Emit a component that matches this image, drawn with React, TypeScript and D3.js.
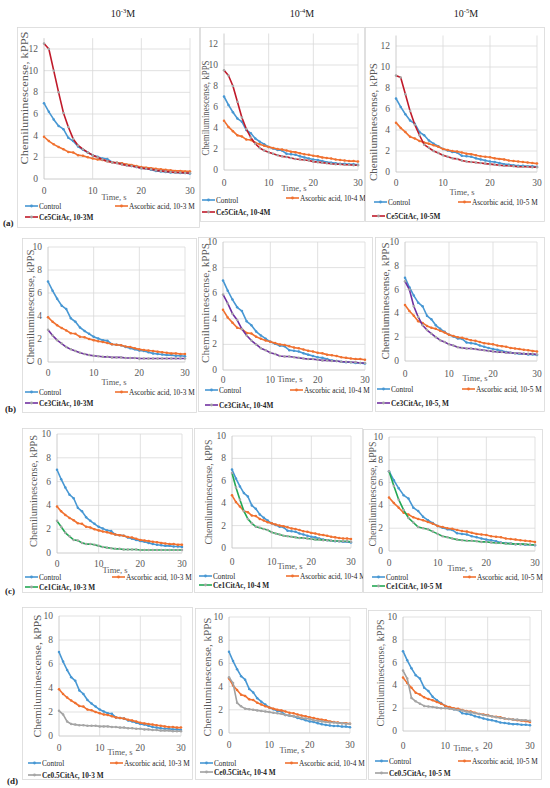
import React from 'react';
import * as d3 from 'd3';

// ---------- DATA ----------
const time = [0, 1, 2, 3, 4, 5, 6, 7, 8, 9, 10, 11, 12, 13, 14, 15, 16, 17, 18, 19, 20, 21, 22, 23, 24, 25, 26, 27, 28, 29, 30];

const control = [7.0, 6.2, 5.5, 4.9, 4.6, 3.8, 3.5, 3.0, 2.7, 2.45, 2.2, 2.05, 1.9, 1.85, 1.55, 1.5, 1.45, 1.3, 1.2, 1.1, 1.0, 0.95, 0.85, 0.75, 0.7, 0.65, 0.6, 0.6, 0.55, 0.55, 0.5];

const ascorbic3 = [3.9, 3.5, 3.2, 2.95, 2.75, 2.5, 2.45, 2.2, 2.15, 2.0, 1.9, 1.8, 1.75, 1.65, 1.55, 1.5, 1.45, 1.35, 1.3, 1.2, 1.1, 1.05, 1.0, 0.95, 0.9, 0.85, 0.8, 0.75, 0.75, 0.7, 0.7];
const ascorbic4 = [4.7, 4.1, 3.7, 3.3, 3.2, 2.9, 2.85, 2.6, 2.45, 2.3, 2.2, 2.1, 2.0, 1.95, 1.85, 1.75, 1.7, 1.6, 1.5, 1.45, 1.35, 1.3, 1.2, 1.15, 1.1, 1.0, 0.95, 0.9, 0.85, 0.85, 0.8];
const ascorbic5 = [4.7, 4.2, 3.8, 3.35, 3.2, 2.95, 2.8, 2.7, 2.55, 2.4, 2.2, 2.1, 2.0, 1.95, 1.85, 1.75, 1.7, 1.6, 1.5, 1.45, 1.4, 1.3, 1.25, 1.2, 1.1, 1.05, 1.0, 0.95, 0.9, 0.85, 0.8];

const ce5_3 = [12.5, 12.0, 10.0, 8.0, 6.1, 4.8, 3.7, 3.1, 2.75, 2.45, 2.2, 2.0, 1.8, 1.65, 1.55, 1.45, 1.35, 1.25, 1.2, 1.1, 1.0, 0.95, 0.9, 0.8, 0.75, 0.7, 0.65, 0.6, 0.6, 0.55, 0.55];
const ce5_4 = [9.5, 9.0, 8.0, 6.5, 5.0, 3.9, 3.1, 2.5, 2.1, 1.85, 1.7, 1.55, 1.4, 1.3, 1.25, 1.15, 1.05, 1.0, 0.95, 0.9, 0.8, 0.75, 0.7, 0.65, 0.6, 0.55, 0.55, 0.5, 0.5, 0.45, 0.45];
const ce5_5 = [9.2, 9.0, 7.4, 5.8, 4.5, 3.5, 2.6, 2.3, 2.0, 1.8, 1.6, 1.45, 1.3, 1.25, 1.1, 1.0, 0.95, 0.9, 0.85, 0.8, 0.75, 0.7, 0.65, 0.6, 0.6, 0.55, 0.5, 0.5, 0.5, 0.45, 0.45];

const ce3_3 = [2.8, 2.3, 1.9, 1.6, 1.3, 1.1, 0.95, 0.8, 0.7, 0.6, 0.55, 0.5, 0.45, 0.45, 0.4, 0.4, 0.4, 0.35, 0.35, 0.35, 0.3, 0.3, 0.3, 0.3, 0.3, 0.3, 0.3, 0.3, 0.3, 0.3, 0.3];
const ce3_4 = [5.9, 5.2, 4.4, 3.9, 3.2, 2.7, 2.3, 2.0, 1.7, 1.55, 1.35, 1.25, 1.1, 1.05, 1.05, 1.0, 0.95, 0.9, 0.85, 0.85, 0.8, 0.75, 0.75, 0.7, 0.7, 0.65, 0.65, 0.6, 0.6, 0.55, 0.55];
const ce3_5 = [6.7, 6.0, 4.6, 3.7, 3.0, 2.6, 2.3, 2.0, 1.75, 1.6, 1.4, 1.3, 1.15, 1.1, 1.05, 1.05, 1.0, 0.95, 0.9, 0.85, 0.8, 0.75, 0.75, 0.7, 0.7, 0.65, 0.65, 0.6, 0.6, 0.6, 0.55];

const ce1_3 = [2.7, 2.2, 1.7, 1.4, 1.1, 1.05, 0.85, 0.75, 0.75, 0.7, 0.6, 0.5, 0.45, 0.4, 0.35, 0.35, 0.3, 0.3, 0.3, 0.3, 0.25, 0.25, 0.25, 0.25, 0.25, 0.25, 0.25, 0.25, 0.25, 0.25, 0.25];
const ce1_4 = [6.7, 5.4, 4.3, 3.3, 2.6, 2.2, 1.9, 1.8, 1.7, 1.6, 1.4, 1.3, 1.2, 1.1, 1.05, 1.0, 0.95, 0.9, 0.9, 0.85, 0.8, 0.75, 0.75, 0.7, 0.7, 0.65, 0.65, 0.6, 0.6, 0.6, 0.55];
const ce1_5 = [7.0, 5.7, 4.5, 3.6, 2.9, 2.5, 2.1, 2.0, 1.9, 1.7, 1.5, 1.3, 1.2, 1.1, 1.0, 0.95, 0.9, 0.9, 0.85, 0.8, 0.8, 0.75, 0.7, 0.7, 0.65, 0.65, 0.6, 0.6, 0.6, 0.55, 0.55];

const ce05_3 = [2.1, 1.8, 1.2, 1.0, 0.95, 0.9, 0.9, 0.85, 0.85, 0.85, 0.8, 0.8, 0.8, 0.75, 0.75, 0.7, 0.7, 0.65, 0.65, 0.6, 0.6, 0.55, 0.55, 0.5, 0.5, 0.45, 0.45, 0.45, 0.4, 0.4, 0.4];
const ce05_4 = [4.8, 4.3, 2.6, 2.3, 2.1, 2.05, 2.0, 1.95, 1.9, 1.85, 1.8, 1.75, 1.7, 1.65, 1.55, 1.5, 1.45, 1.4, 1.3, 1.25, 1.2, 1.1, 1.05, 1.0, 0.95, 0.9, 0.9, 0.85, 0.85, 0.8, 0.8];
const ce05_5 = [5.3, 4.6, 2.9, 2.6, 2.4, 2.2, 2.15, 2.1, 2.05, 2.0, 2.0, 1.95, 1.9, 1.85, 1.8, 1.7, 1.65, 1.55, 1.5, 1.4, 1.35, 1.3, 1.2, 1.15, 1.1, 1.05, 1.0, 1.0, 0.95, 0.95, 0.9];

const xTicks = [0, 10, 20, 30];
const yTicksRowA = [0, 2, 4, 6, 8, 10, 12];
const yTicksOther = [0, 2, 4, 6, 8, 10];
const columnExponents = ['-3', '-4', '-5'];
const rowLabels = ['(a)', '(b)', '(c)', '(d)'];

const controlLabel = 'Control';
const ascorbicLabels = ['Ascorbic acid, 10-3 M', 'Ascorbic acid, 10-4 M', 'Ascorbic acid, 10-5 M'];
const ceLabels = [
  ['Ce5CitAc, 10-3M', 'Ce5CitAc, 10-4M', 'Ce5CitAc, 10-5M'],
  ['Ce3CitAc, 10-3M', 'Ce3CitAc, 10-4M', 'Ce3CitAc, 10-5, M'],
  ['Ce1CitAc, 10-3 M', 'Ce1CitAc, 10-4 M', 'Ce1CitAc, 10-5 M'],
  ['Ce0.5CitAc, 10-3 M', 'Ce0.5CitAc, 10-4 M', 'Ce0.5CitAc, 10-5 M'],
];
const ascorbicSeries = [ascorbic3, ascorbic4, ascorbic5];
const ceSeries = [
  [ce5_3, ce5_4, ce5_5],
  [ce3_3, ce3_4, ce3_5],
  [ce1_3, ce1_4, ce1_5],
  [ce05_3, ce05_4, ce05_5],
];

// ---------- STYLE / LAYOUT ----------
const COL_CONTROL = '#4797d3';
const COL_ASC = '#f07130';
const ceColors = ['#c01a2a', '#7030a0', '#22a854', '#a0a0a0'];
const GRID = '#d9d9d9';
const AXIS = '#bfbfbf';
const TXT = '#595959';
const FONT = '"Liberation Serif", "DejaVu Serif", serif';

type L = {
  box: number[]; x0: number; x1: number; y0: number; yT: number; tMax: number; dMax: number;
  xlY: number; timeX: number; timeY: number;
  titleX: number; titleCY: number; titleLen: number;
  ctrlX: number; ctrlY: number; ascX: number; ascY: number; ceX: number; ceY: number;
};

const layouts: L[][] = [
  [
    { box: [17, 27, 200, 228], x0: 44, x1: 190, y0: 179, yT: 49, tMax: 12, dMax: 13, xlY: 191, timeX: 114, timeY: 197, titleX: 24, titleCY: 98, titleLen: 133, ctrlX: 25, ctrlY: 206, ascX: 115, ascY: 206, ceX: 25, ceY: 217 },
    { box: [200, 27, 365, 222], x0: 224, x1: 358, y0: 170, yT: 44, tMax: 12, dMax: 13, xlY: 183, timeX: 294, timeY: 188, titleX: 205, titleCY: 108, titleLen: 95, ctrlX: 202, ctrlY: 200, ascX: 286, ascY: 198, ceX: 202, ceY: 212 },
    { box: [365, 27, 545, 222], x0: 396, x1: 537, y0: 172, yT: 46, tMax: 12, dMax: 13, xlY: 183, timeX: 462, timeY: 192, titleX: 373, titleCY: 122, titleLen: 118, ctrlX: 374, ctrlY: 202, ascX: 458, ascY: 202, ceX: 372, ceY: 216 },
  ],
  [
    { box: [22, 238, 197, 413], x0: 48, x1: 185, y0: 362, yT: 247, tMax: 10, dMax: 10, xlY: 373, timeX: 114, timeY: 382, titleX: 30, titleCY: 307, titleLen: 115, ctrlX: 25, ctrlY: 392, ascX: 115, ascY: 392, ceX: 25, ceY: 403 },
    { box: [198, 237, 373, 412], x0: 223, x1: 365, y0: 370, yT: 242, tMax: 10, dMax: 10, xlY: 380, timeX: 290, timeY: 379, titleX: 205, titleCY: 303, titleLen: 120, ctrlX: 205, ctrlY: 390, ascX: 290, ascY: 390, ceX: 205, ceY: 405 },
    { box: [375, 237, 545, 412], x0: 405, x1: 537, y0: 361, yT: 242, tMax: 10, dMax: 10, xlY: 374, timeX: 475, timeY: 378, titleX: 385, titleCY: 301, titleLen: 117, ctrlX: 377, ctrlY: 389, ascX: 462, ascY: 389, ceX: 377, ceY: 403 },
  ],
  [
    { box: [22, 428, 193, 593], x0: 57, x1: 182, y0: 553, yT: 434, tMax: 10, dMax: 10, xlY: 564, timeX: 115, timeY: 570, titleX: 33, titleCY: 491, titleLen: 112, ctrlX: 25, ctrlY: 577, ascX: 112, ascY: 577, ceX: 25, ceY: 587 },
    { box: [194, 428, 363, 593], x0: 232, x1: 351, y0: 548, yT: 436, tMax: 10, dMax: 10, xlY: 562, timeX: 290, timeY: 566, titleX: 208, titleCY: 492, titleLen: 105, ctrlX: 199, ctrlY: 576, ascX: 286, ascY: 576, ceX: 199, ceY: 585 },
    { box: [363, 429, 543, 593], x0: 389, x1: 535, y0: 551, yT: 437, tMax: 10, dMax: 10, xlY: 563, timeX: 460, timeY: 568, titleX: 372, titleCY: 494, titleLen: 105, ctrlX: 372, ctrlY: 577, ascX: 463, ascY: 577, ceX: 372, ceY: 586 },
  ],
  [
    { box: [22, 607, 193, 780], x0: 59, x1: 181, y0: 736, yT: 616, tMax: 10, dMax: 10, xlY: 748, timeX: 120, timeY: 752, titleX: 37, titleCY: 676, titleLen: 123, ctrlX: 28, ctrlY: 763, ascX: 110, ascY: 763, ceX: 28, ceY: 775 },
    { box: [195, 608, 367, 780], x0: 229, x1: 350, y0: 733, yT: 617, tMax: 10, dMax: 10, xlY: 745, timeX: 292, timeY: 750, titleX: 207, titleCY: 677, titleLen: 119, ctrlX: 200, ctrlY: 763, ascX: 285, ascY: 763, ceX: 200, ceY: 772 },
    { box: [368, 610, 542, 780], x0: 403, x1: 530, y0: 731, yT: 617, tMax: 10, dMax: 10, xlY: 746, timeX: 466, timeY: 748, titleX: 380, titleCY: 673, titleLen: 107, ctrlX: 375, ctrlY: 761, ascX: 458, ascY: 761, ceX: 375, ceY: 773 },
  ],
];

const headerPos = [{ x: 123, y: 13 }, { x: 302, y: 13 }, { x: 466, y: 13 }];
const rowLabelPos = [{ x: 3, y: 223 }, { x: 5, y: 409 }, { x: 5, y: 591 }, { x: 7, y: 781 }];

function Series({ values, x, y, color, markerColor }: any) {
  const line = d3.line<number>().x((_, i) => x(time[i])).y((v) => y(v));
  return (
    <g>
      <path d={line(values) || ''} fill="none" stroke={color} strokeWidth={1.6} strokeLinejoin="round" />
      {values.map((v: number, i: number) => (
        <circle key={i} cx={x(time[i])} cy={y(v)} r={1.25} fill={markerColor} />
      ))}
    </g>
  );
}

function LegendItem({ x, y, color, markerColor, label, bold }: any) {
  return (
    <g>
      <line x1={x} x2={x + 13} y1={y} y2={y} stroke={color} strokeWidth={1.6} />
      <circle cx={x + 6.5} cy={y} r={1.4} fill={markerColor} />
      <text x={x + 14} y={y} dominantBaseline="central" fontSize={7.3} fill="#262626" fontWeight={bold ? 'bold' : 'normal'} fontFamily={FONT}>{label}</text>
    </g>
  );
}

function Panel({ L, row, col }: { L: L; row: number; col: number }) {
  const x = d3.scaleLinear().domain([0, 30]).range([L.x0, L.x1]);
  const y = d3.scaleLinear().domain([0, L.tMax]).range([L.y0, L.yT]);
  const yTicks = L.tMax === 12 ? yTicksRowA : yTicksOther;
  const topY = y(L.dMax);
  const [bl, bt, br, bb] = L.box;
  const ceColor = ceColors[row];
  const ceMarker = '#a6a6a6';
  return (
    <g>
      <rect x={bl + 0.5} y={bt + 0.5} width={br - bl - 1} height={bb - bt - 1} fill="#fff" stroke={GRID} strokeWidth={0.8} />
      {yTicks.map((t) => (
        <line key={'h' + t} x1={L.x0} x2={L.x1} y1={y(t)} y2={y(t)} stroke={t === 0 ? AXIS : GRID} strokeWidth={0.8} />
      ))}
      {xTicks.map((t) => (
        <line key={'v' + t} x1={x(t)} x2={x(t)} y1={topY} y2={L.y0} stroke={t === 0 ? AXIS : GRID} strokeWidth={0.8} />
      ))}
      {yTicks.map((t) => (
        <text key={'yl' + t} x={L.x0 - 6} y={y(t)} textAnchor="end" dominantBaseline="central" fontSize={9.5} fill={TXT} fontFamily={FONT}>{t}</text>
      ))}
      {xTicks.map((t) => (
        <text key={'xl' + t} x={x(t)} y={L.xlY} textAnchor="middle" dominantBaseline="central" fontSize={9.5} fill={TXT} fontFamily={FONT}>{t}</text>
      ))}
      <text x={L.timeX} y={L.timeY} textAnchor="middle" dominantBaseline="central" fontSize={8.5} fill={TXT} fontFamily={FONT}>Time, s</text>
      <text transform={`translate(${L.titleX},${L.titleCY}) rotate(-90)`} textAnchor="middle" dominantBaseline="central" fontSize={10.5} fill={TXT} fontFamily={FONT} textLength={L.titleLen} lengthAdjust="spacingAndGlyphs">Chemiluminescense, kPPS</text>
      <Series values={control} x={x} y={y} color={COL_CONTROL} markerColor={COL_CONTROL} />
      <Series values={ascorbicSeries[col]} x={x} y={y} color={COL_ASC} markerColor={COL_ASC} />
      <Series values={ceSeries[row][col]} x={x} y={y} color={ceColor} markerColor={ceMarker} />
      <LegendItem x={L.ctrlX} y={L.ctrlY} color={COL_CONTROL} markerColor={COL_CONTROL} label={controlLabel} />
      <LegendItem x={L.ascX} y={L.ascY} color={COL_ASC} markerColor={COL_ASC} label={ascorbicLabels[col]} />
      <LegendItem x={L.ceX} y={L.ceY} color={ceColor} markerColor={ceMarker} label={ceLabels[row][col]} bold />
    </g>
  );
}

export default function App() {
  return (
    <svg width={550} height={788} viewBox="0 0 550 788" style={{ position: 'absolute', left: 0, top: 0, background: '#fff' }}>
      <rect x={0} y={0} width={550} height={788} fill="#fff" />
      {columnExponents.map((e, i) => (
        <text key={'hd' + i} x={headerPos[i].x} y={headerPos[i].y} textAnchor="middle" dominantBaseline="central" fontSize={10} fill="#222" fontFamily={FONT}>
          10<tspan fontSize={6.5} dy={-3.5}>{e}</tspan><tspan dy={3.5}>M</tspan>
        </text>
      ))}
      {layouts.map((rowL, r) => rowL.map((L, c) => <Panel key={r + '-' + c} L={L} row={r} col={c} />))}
      {rowLabels.map((lab, i) => (
        <text key={'rl' + i} x={rowLabelPos[i].x} y={rowLabelPos[i].y} dominantBaseline="central" fontSize={9} fontWeight="bold" fill="#222" fontFamily={FONT}>{lab}</text>
      ))}
    </svg>
  );
}
